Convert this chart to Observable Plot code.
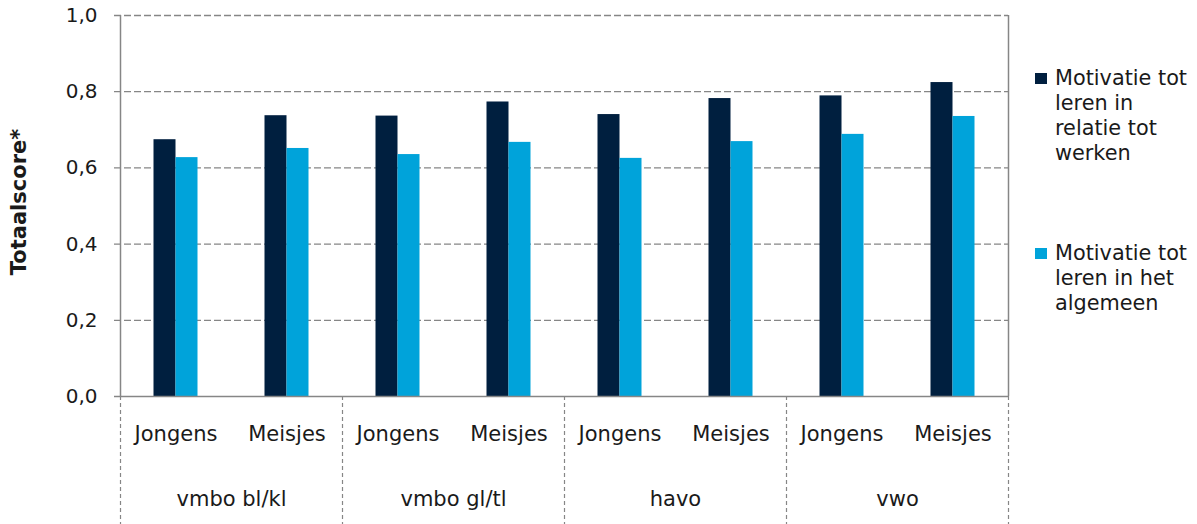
<!DOCTYPE html>
<html><head><meta charset="utf-8">
<script src="https://cdn.jsdelivr.net/npm/d3@7"></script>
<script src="https://cdn.jsdelivr.net/npm/@observablehq/plot@0.6"></script>
<style>
body{margin:0;background:#fff;}
#wrap{position:relative;width:1197px;height:524px;font-family:"DejaVu Sans",Verdana,sans-serif;}
.leg{position:absolute;left:1055px;font-size:20.8px;line-height:25px;color:#1a1a1a;white-space:nowrap;}
.sw{position:absolute;left:1035px;width:12px;height:11px;}
</style></head><body><div id="wrap"></div>
<script>
// ---- data ----
const levels = ["vmbo bl/kl", "vmbo gl/tl", "havo", "vwo"];
const genders = ["Jongens", "Meisjes"];
const seriesNames = ["Motivatie tot leren in relatie tot werken", "Motivatie tot leren in het algemeen"];
const seriesLines = [["Motivatie tot", "leren in", "relatie tot", "werken"], ["Motivatie tot", "leren in het", "algemeen"]];
const seriesColors = ["#001f3f", "#00a3da"];
// order: vmbo bl/kl J, M, vmbo gl/tl J, M, havo J, M, vwo J, M
const werken   = [0.674, 0.737, 0.736, 0.773, 0.740, 0.782, 0.789, 0.824];
const algemeen = [0.627, 0.651, 0.635, 0.667, 0.625, 0.669, 0.688, 0.735];
const yTicks = [0, 0.2, 0.4, 0.6, 0.8, 1.0];
const yTickLabels = ["0,0", "0,2", "0,4", "0,6", "0,8", "1,0"];
const yTitle = "Totaalscore*";

// ---- layout ----
const W = 1197, H = 524, mL = 120, mR = 189, mT = 15, mB = 128;
const bw = (W - mL - mR) / (levels.length * genders.length);
const barW = 22;
const plotH = H - mT - mB;

const key = (l, g) => l + "|" + g;
const rows = [];
levels.forEach((l, i) => genders.forEach((g, j) => {
  rows.push({key: key(l, g), level: l, gender: g, werken: werken[i * 2 + j], algemeen: algemeen[i * 2 + j]});
}));
const keys = rows.map(d => d.key);
const gray = "#868686";
const txt = "#1a1a1a";

const chart = Plot.plot({
  width: W, height: H,
  marginLeft: mL, marginRight: mR, marginTop: mT, marginBottom: mB,
  style: {fontFamily: "'DejaVu Sans', Verdana, sans-serif", fontSize: "20px", color: txt, background: "#fff"},
  x: {type: "band", domain: keys, padding: 0, axis: null},
  y: {domain: [0, 1], axis: null},
  marks: [
    Plot.ruleY(yTicks.filter(d => d > 0), {y: d => d, stroke: gray, strokeWidth: 1.3, strokeDasharray: "7,3", insetLeft: -6}),
    Plot.barY(rows, {x: "key", y: "werken", fill: seriesColors[0], insetLeft: bw / 2 - barW, insetRight: bw / 2}),
    Plot.barY(rows, {x: "key", y: "algemeen", fill: seriesColors[1], insetLeft: bw / 2, insetRight: bw / 2 - barW}),
    Plot.ruleY([0], {stroke: gray, strokeWidth: 1.5, insetLeft: -6}),
    Plot.ruleX([keys[0]], {x: d => d, dx: -bw / 2, stroke: gray, strokeWidth: 1.5}),
    Plot.ruleX([keys[keys.length - 1]], {x: d => d, dx: bw / 2, stroke: gray, strokeWidth: 1.5}),
    Plot.ruleX(levels, {x: d => key(d, genders[0]), dx: -bw / 2, stroke: gray, strokeWidth: 1.2, strokeDasharray: "4,3", insetTop: plotH, insetBottom: -mB}),
    Plot.ruleX([keys[keys.length - 1]], {x: d => d, dx: bw / 2, stroke: gray, strokeWidth: 1.2, strokeDasharray: "4,3", insetTop: plotH, insetBottom: -mB}),
    Plot.text(yTicks, {y: d => d, text: (d, i) => yTickLabels[i], frameAnchor: "left", textAnchor: "end", dx: -23, fill: txt, fontSize: 20}),
    Plot.text(rows, {x: "key", text: "gender", frameAnchor: "bottom", dy: 44, fill: txt, fontSize: 21}),
    Plot.text(levels, {x: d => key(d, genders[0]), dx: bw / 2, text: d => d, frameAnchor: "bottom", dy: 109, fill: txt, fontSize: 21}),
    Plot.text([yTitle], {frameAnchor: "left", textAnchor: "middle", dx: -101, dy: -4, rotate: -90, fontWeight: "bold", fill: txt, fontSize: 21})
  ]
});
const wrap = document.getElementById("wrap");
wrap.appendChild(chart);

// legend
const tops = [66, 241];
seriesLines.forEach((lines, i) => {
  const sw = document.createElement("div");
  sw.className = "sw";
  sw.style.top = (tops[i] + 7) + "px";
  sw.style.background = seriesColors[i];
  sw.title = seriesNames[i];
  wrap.appendChild(sw);
  const t = document.createElement("div");
  t.className = "leg";
  t.style.top = tops[i] + "px";
  t.innerHTML = lines.join("<br>");
  wrap.appendChild(t);
});
</script>
</body></html>
